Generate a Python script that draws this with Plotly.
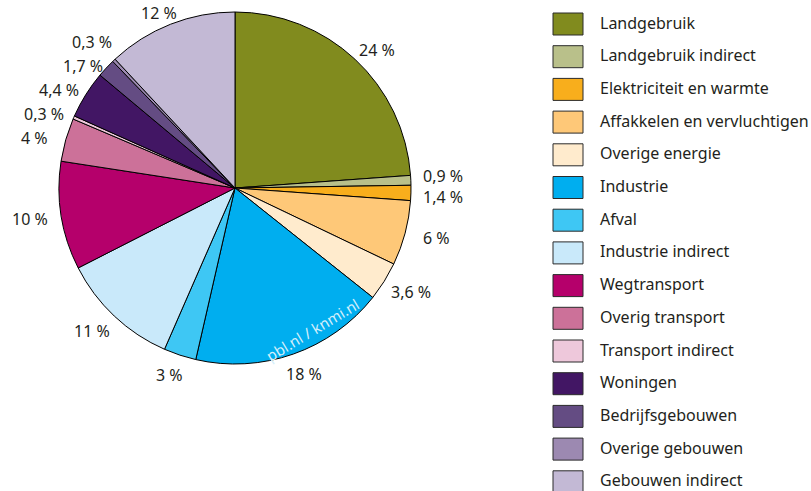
import math
import plotly.graph_objects as go

W, H = 811, 491

categories = [
    "Landgebruik", "Landgebruik indirect", "Elektriciteit en warmte",
    "Affakkelen en vervluchtigen", "Overige energie", "Industrie", "Afval",
    "Industrie indirect", "Wegtransport", "Overig transport",
    "Transport indirect", "Woningen", "Bedrijfsgebouwen",
    "Overige gebouwen", "Gebouwen indirect",
]
shares = [24, 0.9, 1.4, 6, 3.6, 18, 3, 11, 10, 4, 0.3, 4.4, 1.7, 0.3, 12]
labels = ["24 %", "0,9 %", "1,4 %", "6 %", "3,6 %", "18 %", "3 %", "11 %",
          "10 %", "4 %", "0,3 %", "4,4 %", "1,7 %", "0,3 %", "12 %"]
colors = [
    "#818B1E", "#B9C08A", "#F8AE1C", "#FEC878", "#FFEBCD", "#00AEEF",
    "#3EC7F4", "#C9E9FA", "#B5006B", "#CC7199", "#EEC8DB", "#421664",
    "#644C83", "#9C89B1", "#C3B9D5",
]

# pie geometry in pixels
cx, cy, R = 235, 188, 176
FONT = "Noto Sans"
TEXT = "#231F20"

fig = go.Figure(go.Pie(
    labels=categories, values=shares, sort=False, direction="clockwise",
    rotation=0, textinfo="none", hoverinfo="label+percent",
    marker=dict(colors=colors, line=dict(color="#000000", width=1)),
    domain=dict(x=[(cx - R) / W, (cx + R) / W],
                y=[(H - cy - R) / H, (H - cy + R) / H]),
    showlegend=False,
))

# percentage labels outside each slice, at its mid angle
total = sum(shares)
cum = 0.0
pos = []
for val in shares:
    mid = (cum + val / 2) / total * 2 * math.pi
    cum += val
    s, c = math.sin(mid), math.cos(mid)
    dy = 12 if c > 0 else 21
    pos.append([cx + (R + 32) * s, cy - (R + dy) * c, s])


def spread(idx, gap, iters=60):
    """Push labels on one side apart vertically so they don't collide."""
    idx = sorted(idx, key=lambda k: pos[k][1])
    for _ in range(iters):
        for a, b in zip(idx, idx[1:]):
            d = pos[b][1] - pos[a][1]
            if d < gap:
                pos[a][1] -= (gap - d) / 2
                pos[b][1] += (gap - d) / 2


spread([k for k in range(len(pos)) if pos[k][2] < 0], 24)
spread([k for k in range(len(pos)) if pos[k][2] >= 0], 21)

annotations = []
for (px, py, _), txt in zip(pos, labels):
    annotations.append(dict(
        x=px / W, y=1 - py / H, xref="paper", yref="paper", text=txt,
        showarrow=False, xanchor="center", yanchor="middle",
        font=dict(family=FONT, size=16, color=TEXT),
    ))

# watermark on the Industrie slice
annotations.append(dict(
    x=312 / W, y=1 - 330 / H, xref="paper", yref="paper",
    text="pbl.nl / knmi.nl", showarrow=False, textangle=-31,
    xanchor="center", yanchor="middle",
    font=dict(family=FONT, size=15, color="#D5EFFB"),
))

# legend: outlined boxes with labels
shapes = []
row0, step = 24, 32.7
for i, (name, col) in enumerate(zip(categories, colors)):
    yc = row0 + i * step
    shapes.append(dict(
        type="rect", xref="paper", yref="paper",
        x0=553 / W, x1=583 / W, y0=1 - (yc - 11) / H, y1=1 - (yc + 11) / H,
        fillcolor=col, line=dict(color="#2a2a2a", width=1),
    ))
    annotations.append(dict(
        x=598 / W, y=1 - (yc - 1.5) / H, xref="paper", yref="paper",
        text=name, showarrow=False, xanchor="left", yanchor="middle",
        font=dict(family=FONT, size=16, color=TEXT),
    ))

fig.update_layout(
    width=W, height=H, margin=dict(l=0, r=0, t=0, b=0),
    paper_bgcolor="white", plot_bgcolor="white",
    annotations=annotations, shapes=shapes,
)

fig.write_html("out.html")
